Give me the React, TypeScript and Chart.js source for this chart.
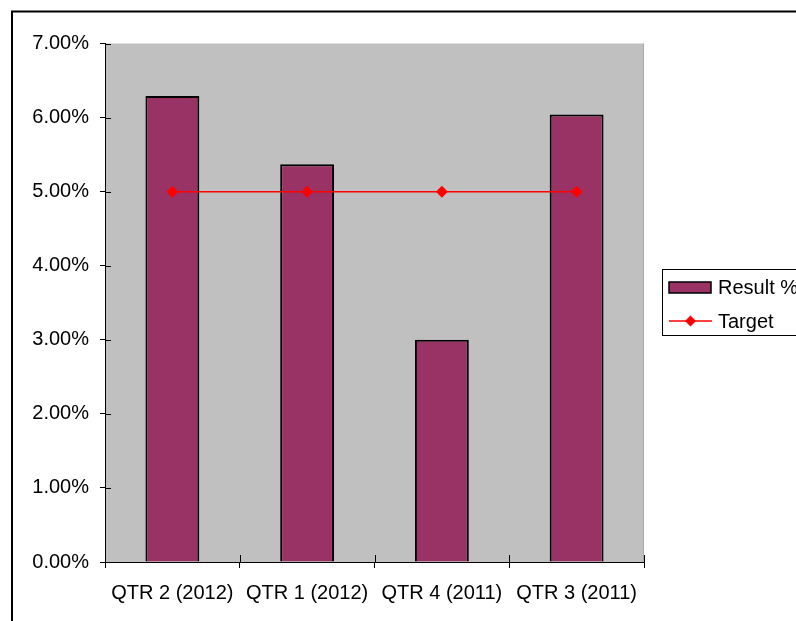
import React, { useEffect, useRef } from "react";
import { Chart, registerables } from "chart.js";

Chart.register(...registerables);

// Quarter labels and values (percent)
const categories = ["QTR 2 (2012)", "QTR 1 (2012)", "QTR 4 (2011)", "QTR 3 (2011)"];
const resultValues = [6.29, 5.37, 3.0, 6.04];
const targetValues = [5, 5, 5, 5];
const seriesNames = ["Result %", "Target"];
const yMin = 0;
const yMax = 7;
const yStep = 1;

const FONT = "'Liberation Sans', Arial, sans-serif";
const BAR_FILL = "#993366";
const TARGET_RED = "#FF0000";
const PLOT_GRAY = "#C0C0C0";

// Frame, plot background, crossing tick marks and the legend box
const decorPlugin = {
  id: "decor",
  beforeDraw(chart: any) {
    const { ctx, chartArea } = chart;
    ctx.save();
    ctx.fillStyle = "#FFFFFF";
    ctx.fillRect(0, 0, chart.width, chart.height);
    // outer frame
    ctx.strokeStyle = "#000000";
    ctx.lineWidth = 2;
    ctx.strokeRect(12, 11.5, chart.width + 20, chart.height + 20);
    // plot background
    ctx.fillStyle = PLOT_GRAY;
    ctx.fillRect(chartArea.left, chartArea.top, chartArea.right - chartArea.left, chartArea.bottom - chartArea.top);
    ctx.strokeStyle = "#A8A8A8";
    ctx.lineWidth = 1;
    ctx.beginPath();
    ctx.moveTo(chartArea.right - 0.5, chartArea.top);
    ctx.lineTo(chartArea.right - 0.5, chartArea.bottom);
    ctx.stroke();
    ctx.restore();
  },
  afterDraw(chart: any) {
    const { ctx, chartArea } = chart;
    const xs = chart.scales.x;
    const ys = chart.scales.y;
    ctx.save();
    ctx.strokeStyle = "#000000";
    ctx.lineWidth = 1;
    ctx.beginPath();
    // inner halves of the y tick marks
    ys.ticks.forEach((_t: any, i: number) => {
      const y = Math.round(ys.getPixelForTick(i)) + 0.5;
      ctx.moveTo(chartArea.left, y);
      ctx.lineTo(chartArea.left + 6, y);
    });
    // inner halves of the category boundary marks
    for (let i = 1; i < categories.length + 1; i++) {
      const x = Math.round(xs.getPixelForValue(i - 0.5)) + 0.5;
      ctx.moveTo(x, chartArea.bottom);
      ctx.lineTo(x, chartArea.bottom - 7);
    }
    ctx.stroke();

    // legend
    const lx = 662.5;
    const ly = 269.5;
    ctx.fillStyle = "#FFFFFF";
    ctx.fillRect(lx, ly, 200, 66);
    ctx.strokeStyle = "#000000";
    ctx.strokeRect(lx, ly, 200, 66);

    const bar = chart.data.datasets[0];
    const line = chart.data.datasets[1];
    ctx.fillStyle = bar.backgroundColor;
    ctx.fillRect(669, 282, 42, 11);
    ctx.lineWidth = 1.5;
    ctx.strokeStyle = "#000000";
    ctx.strokeRect(669, 282, 42, 11);

    ctx.strokeStyle = line.borderColor;
    ctx.lineWidth = 1.5;
    ctx.beginPath();
    ctx.moveTo(669, 321);
    ctx.lineTo(712, 321);
    ctx.stroke();
    ctx.fillStyle = line.pointBackgroundColor;
    ctx.beginPath();
    ctx.moveTo(690.5, 315.5);
    ctx.lineTo(696, 321);
    ctx.lineTo(690.5, 326.5);
    ctx.lineTo(685, 321);
    ctx.closePath();
    ctx.fill();

    ctx.fillStyle = "#000000";
    ctx.font = `20px ${FONT}`;
    ctx.textBaseline = "middle";
    ctx.textAlign = "left";
    ctx.fillText(bar.label, 718, 288);
    ctx.fillText(line.label, 718, 322);
    ctx.restore();
  },
};

export default function App() {
  const canvasRef = useRef<HTMLCanvasElement | null>(null);

  useEffect(() => {
    const canvas = canvasRef.current;
    if (!canvas) return;
    const chart = new Chart(canvas, {
      type: "bar",
      data: {
        labels: categories,
        datasets: [
          {
            type: "bar",
            label: seriesNames[0],
            data: resultValues,
            backgroundColor: BAR_FILL,
            borderColor: "#000000",
            borderWidth: 2,
            barPercentage: 0.4,
            categoryPercentage: 1,
            order: 1,
          },
          {
            type: "line",
            label: seriesNames[1],
            data: targetValues,
            borderColor: TARGET_RED,
            borderWidth: 1.5,
            pointStyle: "rectRot",
            pointRadius: 6,
            pointBorderWidth: 0,
            pointBackgroundColor: TARGET_RED,
            pointBorderColor: TARGET_RED,
            order: 0,
          } as any,
        ],
      },
      options: {
        responsive: false,
        animation: false,
        layout: { padding: { left: 0, top: 43.5, right: 152, bottom: 0 } },
        plugins: {
          legend: { display: false },
          tooltip: { enabled: false },
        },
        scales: {
          x: {
            offset: true,
            grid: {
              offset: true,
              drawOnChartArea: false,
              drawTicks: true,
              tickLength: 6,
              color: "#000000",
            },
            border: { display: true, color: "#000000", width: 1 },
            ticks: {
              color: "#000000",
              font: { family: FONT, size: 20 },
              padding: 13,
              maxRotation: 0,
              autoSkip: false,
            },
            afterFit: (s: any) => {
              s.height = 59;
            },
          },
          y: {
            min: yMin,
            max: yMax,
            grid: {
              drawOnChartArea: false,
              drawTicks: true,
              tickLength: 5,
              color: "#000000",
            },
            border: { display: true, color: "#000000", width: 1 },
            ticks: {
              stepSize: yStep,
              color: "#000000",
              font: { family: FONT, size: 20 },
              padding: 11,
              callback: (v: any) => Number(v).toFixed(2) + "%",
            },
            afterFit: (s: any) => {
              s.width = 105;
            },
          },
        },
      },
      plugins: [decorPlugin],
    });
    return () => chart.destroy();
  }, []);

  return (
    <div style={{ position: "fixed", left: 0, top: 0, width: 796, height: 621, background: "#fff" }}>
      <canvas ref={canvasRef} width={796} height={621} style={{ display: "block" }} />
    </div>
  );
}
